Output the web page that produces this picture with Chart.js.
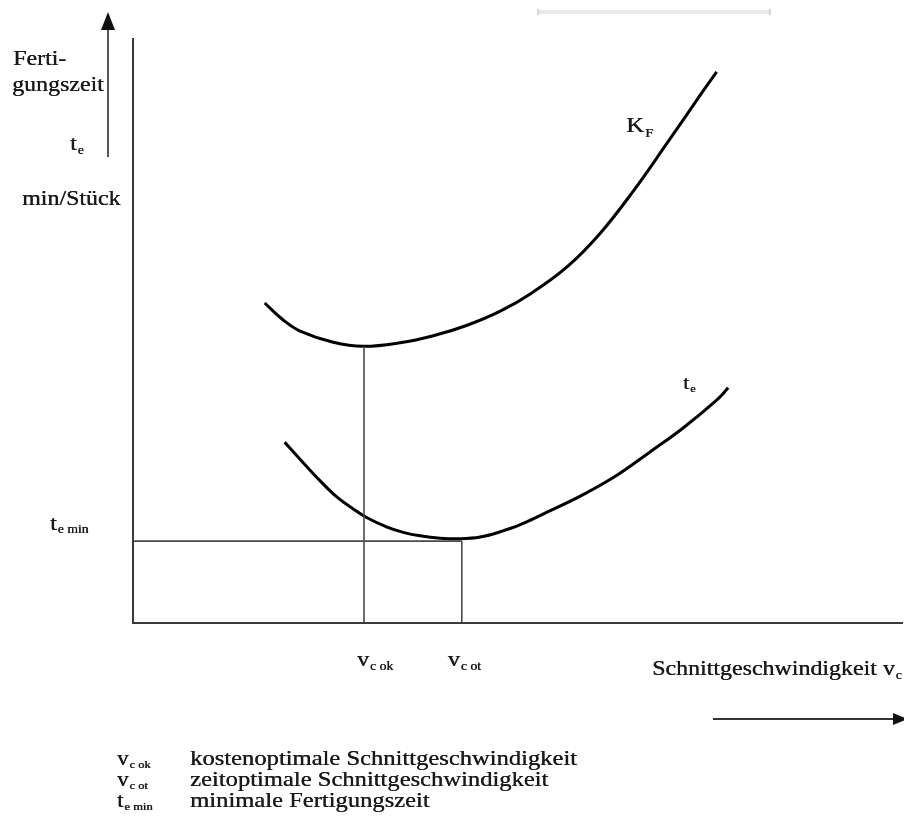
<!DOCTYPE html>
<html>
<head>
<meta charset="utf-8">
<script src="https://cdn.jsdelivr.net/npm/chart.js@4.4.0/dist/chart.umd.min.js"></script>
<style>
  html, body { margin: 0; padding: 0; background: #fff; }
  #wrap { width: 904px; height: 829px; }
</style>
</head>
<body>
<div id="wrap"><canvas id="chart" width="904" height="829"></canvas></div>
<script>
// Schnittgeschwindigkeit v_c and Fertigungszeit in relative units (0..100)
const kfX = [17.1, 19.5, 21.7, 26.0, 29.9, 34.7, 39.0, 43.4, 47.7, 52.0, 56.4, 60.6, 64.9, 69.4, 73.6, 75.8];
const kfY = [54.7, 51.8, 49.9, 48.0, 47.3, 47.9, 49.1, 50.9, 53.3, 56.6, 60.9, 66.5, 73.7, 82.1, 90.1, 94.2];

const teX = [19.7, 22.1, 24.3, 26.5, 28.6, 30.4, 33.0, 35.1, 37.3, 39.9, 42.5, 45.1, 47.7, 50.3, 54.2, 58.4, 62.9, 67.1, 71.4, 75.8, 77.3];
const teY = [30.9, 27.4, 24.3, 21.5, 19.5, 18.0, 16.4, 15.5, 14.9, 14.5, 14.4, 14.7, 15.6, 16.8, 19.2, 21.9, 25.3, 29.2, 33.3, 38.1, 40.2];

const vcOk = 30.0;   // kostenoptimale Schnittgeschwindigkeit
const vcOt = 42.7;   // zeitoptimale Schnittgeschwindigkeit
const teMin = 14.0;  // minimale Fertigungszeit

const legendKeys = [["v", "c ok"], ["v", "c ot"], ["t", "e min"]];
const legendTexts = [
  "kostenoptimale Schnittgeschwindigkeit",
  "zeitoptimale Schnittgeschwindigkeit",
  "minimale Fertigungszeit"
];

const pts = (xs, ys) => xs.map((x, i) => ({ x: x, y: ys[i] }));
const kfMin = Math.min(...kfY);

const FONT = '"Liberation Serif", "Times New Roman", serif';
const SX = 1.14; // lettering runs a bit wider than the regular face
const INK = "#1a1a1a";

function txt(ctx, s, x, y, size, sx) {
  sx = sx || SX;
  ctx.save();
  ctx.font = size + "px " + FONT;
  ctx.fillStyle = INK;
  ctx.textBaseline = "alphabetic";
  ctx.translate(x, y);
  ctx.scale(sx, 1);
  ctx.fillText(s, 0, 0);
  ctx.fillText(s, 0.35, 0); // slightly heavier stroke
  const w = ctx.measureText(s).width * sx;
  ctx.restore();
  return w;
}

// main letter with a small subscript after it
function subLabel(ctx, main, x, y, sub, size, subSize, drop) {
  const w = txt(ctx, main, x, y, size);
  txt(ctx, sub, x + w + 1, y + drop, subSize);
}

const decor = {
  id: "decor",
  afterDatasetsDraw(chart) {
    const ctx = chart.ctx;
    const xs = chart.scales.x, ys = chart.scales.y;
    const x0 = xs.getPixelForValue(0), y0 = ys.getPixelForValue(0);
    const yTop = ys.getPixelForValue(100);

    ctx.save();
    // axes
    ctx.strokeStyle = "#3a3a3a";
    ctx.lineWidth = 2;
    ctx.beginPath();
    ctx.moveTo(x0, yTop);
    ctx.lineTo(x0, y0);
    ctx.lineTo(chart.width - 1, y0);
    ctx.stroke();

    // y direction arrow
    ctx.strokeStyle = "#555";
    ctx.lineWidth = 2;
    ctx.beginPath();
    ctx.moveTo(108, 157);
    ctx.lineTo(108, 28);
    ctx.stroke();
    ctx.fillStyle = "#111";
    ctx.beginPath();
    ctx.moveTo(108, 12);
    ctx.lineTo(115, 30);
    ctx.lineTo(101, 30);
    ctx.closePath();
    ctx.fill();

    // x direction arrow
    ctx.strokeStyle = "#333";
    ctx.beginPath();
    ctx.moveTo(713, 719);
    ctx.lineTo(895, 719);
    ctx.stroke();
    ctx.fillStyle = "#111";
    ctx.beginPath();
    ctx.moveTo(908, 719);
    ctx.lineTo(893, 713);
    ctx.lineTo(893, 725);
    ctx.closePath();
    ctx.fill();

    // faint rule at the top
    ctx.fillStyle = "#e9e9e9";
    ctx.fillRect(537, 10, 234, 4);
    ctx.fillStyle = "#d6d6d6";
    ctx.fillRect(537, 9, 2, 6);
    ctx.fillRect(769, 9, 2, 6);
    ctx.restore();

    // y axis caption
    txt(ctx, "Ferti-", 13, 65, 21);
    txt(ctx, "gungszeit", 12, 91, 21);
    subLabel(ctx, "t", 70, 150, "e", 21, 12, 4);
    txt(ctx, "min/Stück", 22, 205, 21);

    // curve labels
    subLabel(ctx, "K", 626, 132, "F", 22, 13, 5);
    subLabel(ctx, "t", 683, 389, "e", 19, 11, 3);

    // marks on the axes
    subLabel(ctx, "t", 50, 530, "e min", 21, 12, 3);
    subLabel(ctx, "v", xs.getPixelForValue(vcOk) - 7, 666, "c ok", 21, 12, 4);
    subLabel(ctx, "v", xs.getPixelForValue(vcOt) - 14, 666, "c ot", 21, 12, 4);

    // axis caption
    subLabel(ctx, "Schnittgeschwindigkeit v", 652, 675, "c", 21, 12, 4);

    // legend
    legendTexts.forEach((t, i) => {
      const y = 765 + i * 21;
      subLabel(ctx, legendKeys[i][0], 117, y, legendKeys[i][1], 20, 11, 3);
      txt(ctx, t, 190, y, 21, 1.17);
    });
  }
};

const curve = (data) => ({
  data: data,
  showLine: true,
  borderColor: "#000",
  borderWidth: 3,
  pointRadius: 0,
  tension: 0.4,
  fill: false
});
const guide = (data) => ({
  data: data,
  showLine: true,
  borderColor: "#4a4a4a",
  borderWidth: 1.6,
  pointRadius: 0,
  fill: false
});

new Chart(document.getElementById("chart"), {
  type: "scatter",
  data: {
    datasets: [
      guide([{ x: vcOk, y: 0 }, { x: vcOk, y: kfMin }]),
      guide([{ x: vcOt, y: 0 }, { x: vcOt, y: teMin }]),
      guide([{ x: 0, y: teMin }, { x: vcOt, y: teMin }]),
      curve(pts(kfX, kfY)),
      curve(pts(teX, teY))
    ]
  },
  options: {
    responsive: false,
    animation: false,
    layout: { padding: { left: 133, right: 1, top: 38, bottom: 206 } },
    plugins: { legend: { display: false }, tooltip: { enabled: false } },
    scales: {
      x: { type: "linear", min: 0, max: 100, display: false },
      y: { type: "linear", min: 0, max: 100, display: false }
    }
  },
  plugins: [decor]
});
</script>
</body>
</html>
